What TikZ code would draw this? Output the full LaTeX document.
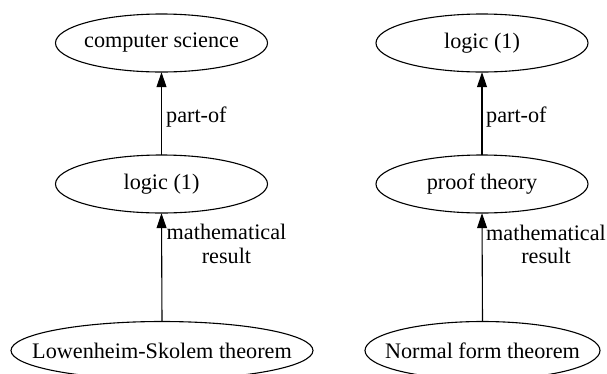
\documentclass[tikz,border=0pt]{standalone}
\usepackage{fontspec}
\setmainfont{Liberation Serif}
\usetikzlibrary{arrows.meta}
\begin{document}
\begin{tikzpicture}[x=1pt,y=-1pt,
  every node/.style={font=\fontsize{22.2}{24}\selectfont},
  box/.style={rectangle,inner sep=0pt,minimum height=58pt},
  ring/.style={draw,line width=1.1pt},
  edge/.style={line width=1.1pt,-{Triangle[length=15pt,width=10pt]}},
  lbl/.style={inner sep=0pt,align=center}]
\useasboundingbox (0,0) rectangle (607,373);
% left column
\node[box,minimum width=212pt] (cs) at (161.5,43) {computer science};
\node[box,minimum width=212pt] (lg1) at (161.5,184) {logic (1)};
\node[box,minimum width=302pt] (ls) at (162,350.5) {Lowenheim-Skolem theorem};
% right column
\node[box,minimum width=212pt] (lg2) at (482,43) {logic (1)};
\node[box,minimum width=212pt] (pt) at (482,184) {proof theory};
\node[box,minimum width=235pt] (nf) at (482.5,350.5) {Normal form theorem};
% ellipses
\draw[ring] (cs.center) ellipse [x radius=106, y radius=29];
\draw[ring] (lg1.center) ellipse [x radius=106, y radius=29];
\draw[ring] (ls.center) ellipse [x radius=151, y radius=29];
\draw[ring] (lg2.center) ellipse [x radius=106, y radius=29];
\draw[ring] (pt.center) ellipse [x radius=106, y radius=29];
\draw[ring] (nf.center) ellipse [x radius=117.5, y radius=29];
% edges
\draw[edge] (lg1.north) -- (cs.south);
\draw[edge] (ls.north) -- (lg1.south);
\draw[edge] (pt.north) -- (lg2.south);
\draw[edge] (nf.north) -- (pt.south);
% labels
\node[lbl,anchor=base west] (l1) at (166,122.7) {part-of};
\node[lbl,anchor=base west] (l3) at (486,122.7) {part-of};
\node[lbl,anchor=base] (l2) at (226.5,263.3) {mathematical\\[-0.5pt]result};
\node[lbl,anchor=base] (l4) at (546,263.8) {mathematical\\[-0.5pt]result};
\end{tikzpicture}
\end{document}
